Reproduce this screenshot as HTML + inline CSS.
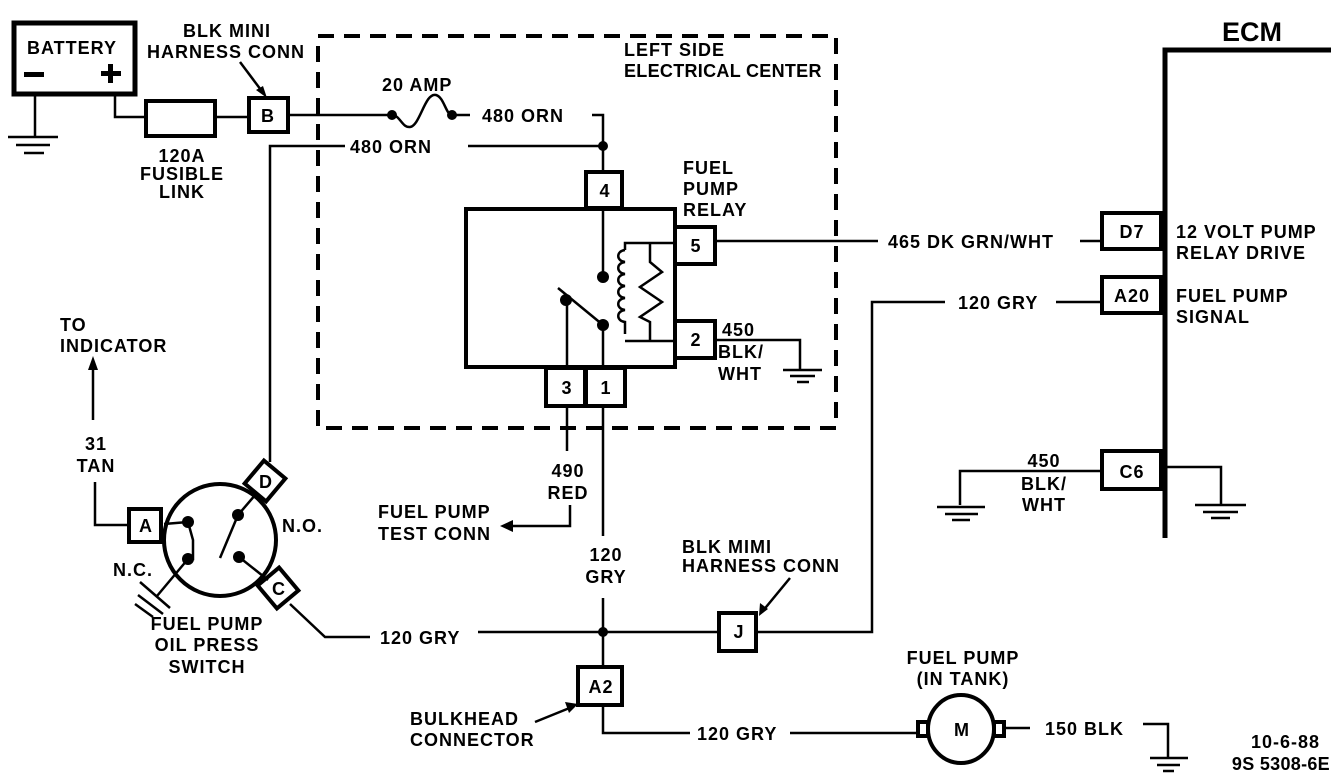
<!DOCTYPE html>
<html><head><meta charset="utf-8"><style>
html,body{margin:0;padding:0;background:#fff;}
svg{display:block;}
text{font-family:"Liberation Sans",sans-serif;font-weight:bold;font-size:18px;letter-spacing:1px;fill:#000;}
</style></head><body>
<svg width="1344" height="782" viewBox="0 0 1344 782" xmlns="http://www.w3.org/2000/svg">
<g stroke="#000" fill="none" stroke-width="2.5">
<rect x="14" y="23" width="121" height="71" stroke-width="5"/>
<line x1="35" y1="96" x2="35" y2="137"/>
<line x1="8" y1="137" x2="58" y2="137"/>
<line x1="16" y1="145" x2="50" y2="145"/>
<line x1="24" y1="153" x2="44" y2="153"/>
<polyline points="115,96 115,117 146,117"/>
<rect x="146" y="101" width="69" height="35" stroke-width="4"/>
<line x1="215" y1="117" x2="249" y2="117"/>
<rect x="249" y="98" width="39" height="34" stroke-width="4"/>
<line x1="288" y1="115" x2="392" y2="115"/>
<path d="M392,115 C400,115 402,128 410,127 C420,126 425,92 436,95 C444,97 446,115 452,115"/>
<line x1="452" y1="115" x2="470" y2="115"/>
<polyline points="592,115 603,115 603,172"/>
<line x1="468" y1="146" x2="603" y2="146"/>
<polyline points="345,146 270,146 270,462"/>
<line x1="240" y1="62" x2="264" y2="94"/>
<rect x="318" y="36" width="518" height="392" stroke-width="4" stroke-dasharray="16,10"/>
<rect x="466" y="209" width="209" height="158" stroke-width="4"/>
<rect x="586" y="172" width="36" height="36" stroke-width="4"/>
<rect x="675" y="227" width="40" height="37" stroke-width="4"/>
<rect x="675" y="321" width="40" height="37" stroke-width="4"/>
<rect x="546" y="368" width="39" height="38" stroke-width="4"/>
<rect x="586" y="368" width="39" height="38" stroke-width="4"/>
<line x1="603" y1="209" x2="603" y2="276"/>
<line x1="603" y1="325" x2="603" y2="368"/>
<line x1="558" y1="288" x2="603" y2="325"/>
<line x1="567" y1="300" x2="567" y2="368"/>
<polyline points="675,243 625,243 625,250"/>
<path d="M625,250 c-9,1 -9,11 0,12 c-9,1 -9,11 0,12 c-9,1 -9,11 0,12 c-9,1 -9,11 0,12 c-9,1 -9,11 0,12 c-9,1 -9,11 0,12 l0,12"/>
<polyline points="625,341 675,341"/>
<polyline points="650,243 650,262 662,272 640,287 662,302 640,317 650,322 650,341"/>
<line x1="715" y1="241" x2="878" y2="241"/>
<line x1="1080" y1="241" x2="1101" y2="241"/>
<polyline points="715,340 800,340 800,369"/>
<line x1="783" y1="370" x2="822" y2="370"/>
<line x1="790" y1="376" x2="815" y2="376"/>
<line x1="797" y1="382" x2="809" y2="382"/>
<polyline points="1165,538 1165,50 1331,50" stroke-width="5"/>
<rect x="1102" y="213" width="59" height="36" stroke-width="4"/>
<rect x="1102" y="277" width="59" height="36" stroke-width="4"/>
<rect x="1102" y="451" width="59" height="38" stroke-width="4"/>
<line x1="1056" y1="302" x2="1102" y2="302"/>
<polyline points="945,302 872,302 872,632 757,632"/>
<rect x="719" y="613" width="37" height="38" stroke-width="4"/>
<line x1="790" y1="578" x2="762" y2="612"/>
<line x1="478" y1="632" x2="719" y2="632"/>
<polyline points="370,637 325,637 290,604"/>
<polyline points="1102,471 960,471 960,505"/>
<line x1="937" y1="507" x2="985" y2="507"/>
<line x1="945" y1="514" x2="978" y2="514"/>
<line x1="952" y1="520" x2="970" y2="520"/>
<polyline points="1167,467 1221,467 1221,504"/>
<line x1="1195" y1="505" x2="1246" y2="505"/>
<line x1="1203" y1="512" x2="1238" y2="512"/>
<line x1="1211" y1="518" x2="1230" y2="518"/>
<line x1="567" y1="406" x2="567" y2="451"/>
<polyline points="570,505 570,526 508,526"/>
<line x1="603" y1="406" x2="603" y2="536"/>
<line x1="603" y1="598" x2="603" y2="667"/>
<rect x="578" y="667" width="44" height="38" stroke-width="4"/>
<polyline points="603,705 603,733 690,733"/>
<line x1="790" y1="733" x2="918" y2="733"/>
<line x1="535" y1="722" x2="572" y2="707"/>
<ellipse cx="961" cy="729" rx="33" ry="34" stroke-width="4"/>
<rect x="918" y="722" width="10" height="14" stroke-width="4"/>
<rect x="994" y="722" width="10" height="14" stroke-width="4"/>
<line x1="1004" y1="728" x2="1030" y2="728"/>
<polyline points="1143,724 1168,724 1168,757"/>
<line x1="1150" y1="758" x2="1188" y2="758"/>
<line x1="1157" y1="765" x2="1180" y2="765"/>
<line x1="1163" y1="771" x2="1174" y2="771"/>
<circle cx="220" cy="540" r="56" stroke-width="4"/>
<rect x="129" y="509" width="32" height="33" stroke-width="4"/>
<polyline points="129,525 95,525 95,482"/>
<line x1="93" y1="420" x2="93" y2="362"/>
<rect x="251" y="466" width="28" height="30" stroke-width="4" transform="rotate(40 265 481)"/>
<rect x="264" y="573" width="28" height="30" stroke-width="4" transform="rotate(-40 278 588)"/>
<line x1="164" y1="524" x2="188" y2="522"/>
<polyline points="188,522 193,540 193,559 188,559"/>
<line x1="188" y1="559" x2="157" y2="596"/>
<line x1="140" y1="582" x2="170" y2="608"/>
<line x1="138" y1="595" x2="163" y2="614"/>
<line x1="135" y1="604" x2="153" y2="617"/>
<line x1="238" y1="515" x2="220" y2="558"/>
<line x1="238" y1="515" x2="256" y2="494"/>
<line x1="239" y1="557" x2="268" y2="580"/>
</g>
<g fill="#000">
<circle cx="392" cy="115" r="5"/><circle cx="452" cy="115" r="5"/>
<circle cx="603" cy="146" r="5"/>
<circle cx="603" cy="277" r="6"/><circle cx="603" cy="325" r="6"/><circle cx="566" cy="300" r="6"/>
<circle cx="603" cy="632" r="5"/>
<circle cx="188" cy="522" r="6"/><circle cx="188" cy="559" r="6"/>
<circle cx="238" cy="515" r="6"/><circle cx="239" cy="557" r="6"/>
<polygon points="267,98 256,90 263,86"/>
<polygon points="759,616 760,603 768,609"/>
<polygon points="500,526 513,520 513,532"/>
<polygon points="578,704 565,702 569,713"/>
<polygon points="93,356 88,370 98,370"/>
<rect x="24" y="72" width="20" height="5"/>
<rect x="101" y="71" width="20" height="5"/><rect x="108" y="64" width="5" height="19"/>
</g>
<text x="27" y="54">BATTERY</text>
<text x="183" y="37">BLK MINI</text>
<text x="147" y="58">HARNESS CONN</text>
<text x="182" y="162" text-anchor="middle">120A</text>
<text x="182" y="180" text-anchor="middle">FUSIBLE</text>
<text x="182" y="198" text-anchor="middle">LINK</text>
<text x="268" y="122" text-anchor="middle">B</text>
<text x="382" y="91">20 AMP</text>
<text x="482" y="122">480 ORN</text>
<text x="350" y="153">480 ORN</text>
<text x="624" y="56">LEFT SIDE</text>
<text x="624" y="77" style="letter-spacing:0.3px">ELECTRICAL CENTER</text>
<text x="683" y="174">FUEL</text>
<text x="683" y="195">PUMP</text>
<text x="683" y="216">RELAY</text>
<text x="605" y="197" text-anchor="middle">4</text>
<text x="696" y="252" text-anchor="middle">5</text>
<text x="696" y="346" text-anchor="middle">2</text>
<text x="567" y="394" text-anchor="middle">3</text>
<text x="606" y="394" text-anchor="middle">1</text>
<text x="722" y="336">450</text>
<text x="718" y="358">BLK/</text>
<text x="718" y="380">WHT</text>
<text x="1222" y="41" style="font-size:27px;letter-spacing:0">ECM</text>
<text x="888" y="248">465 DK GRN/WHT</text>
<text x="1132" y="238" text-anchor="middle">D7</text>
<text x="1176" y="238">12 VOLT PUMP</text>
<text x="1176" y="259">RELAY DRIVE</text>
<text x="958" y="309">120 GRY</text>
<text x="1132" y="302" text-anchor="middle">A20</text>
<text x="1176" y="302">FUEL PUMP</text>
<text x="1176" y="323">SIGNAL</text>
<text x="1132" y="478" text-anchor="middle">C6</text>
<text x="1044" y="467" text-anchor="middle">450</text>
<text x="1044" y="490" text-anchor="middle">BLK/</text>
<text x="1044" y="511" text-anchor="middle">WHT</text>
<text x="60" y="331">TO</text>
<text x="60" y="352">INDICATOR</text>
<text x="96" y="450" text-anchor="middle">31</text>
<text x="96" y="472" text-anchor="middle">TAN</text>
<text x="146" y="532" text-anchor="middle">A</text>
<text x="266" y="488" text-anchor="middle">D</text>
<text x="279" y="595" text-anchor="middle">C</text>
<text x="282" y="532">N.O.</text>
<text x="113" y="576">N.C.</text>
<text x="207" y="630" text-anchor="middle">FUEL PUMP</text>
<text x="207" y="651" text-anchor="middle">OIL PRESS</text>
<text x="207" y="673" text-anchor="middle">SWITCH</text>
<text x="568" y="477" text-anchor="middle">490</text>
<text x="568" y="499" text-anchor="middle">RED</text>
<text x="378" y="518">FUEL PUMP</text>
<text x="378" y="540">TEST CONN</text>
<text x="606" y="561" text-anchor="middle">120</text>
<text x="606" y="583" text-anchor="middle">GRY</text>
<text x="682" y="553">BLK MIMI</text>
<text x="682" y="572">HARNESS CONN</text>
<text x="739" y="638" text-anchor="middle">J</text>
<text x="380" y="644">120 GRY</text>
<text x="601" y="693" text-anchor="middle">A2</text>
<text x="410" y="725">BULKHEAD</text>
<text x="410" y="746">CONNECTOR</text>
<text x="697" y="740">120 GRY</text>
<text x="963" y="664" text-anchor="middle">FUEL PUMP</text>
<text x="963" y="685" text-anchor="middle">(IN TANK)</text>
<text x="962" y="736" text-anchor="middle">M</text>
<text x="1045" y="735">150 BLK</text>
<text x="1320" y="748" text-anchor="end">10-6-88</text>
<text x="1330" y="770" text-anchor="end" style="letter-spacing:0.3px">9S 5308-6E</text>
</svg>
</body></html>
